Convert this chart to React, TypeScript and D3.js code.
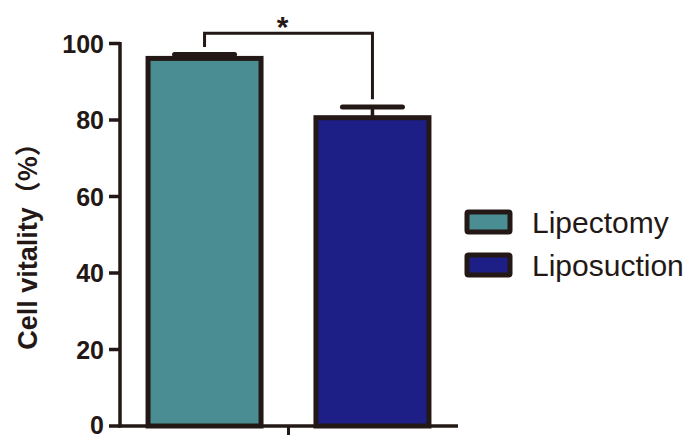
import React from "react";
import * as d3 from "d3";

// Group means and SEM (cell vitality, %)
const groups = ["Lipectomy", "Liposuction"];
const means = [96.1, 80.6];
const sems = [1.0, 2.8];
const fills = ["#4A8D93", "#1E1E87"];
const yTicks = [0, 20, 40, 60, 80, 100];
const yTitleMain = "Cell vitality";
const yTitleUnit = "（%）";
const sigLabel = "*";

const W = 694;
const H = 435;
const INK = "#231815";

export default function App() {
  const y = d3.scaleLinear().domain([0, 100]).range([426, 43.5]);
  const x = d3
    .scaleBand<string>()
    .domain(groups)
    .range([120, 457])
    .paddingInner(0.327)
    .paddingOuter(0.167);

  const bw = x.bandwidth();
  const cx = (g: string) => (x(g) as number) + bw / 2;
  const capHalf = 30;

  // significance bracket between the two groups
  const bracketVal = 102.7;
  const legGap = 2.0;
  const x1 = cx(groups[0]);
  const x2 = cx(groups[1]);
  const mid = (x1 + x2) / 2;

  return (
    <svg
      width={W}
      height={H}
      style={{ position: "absolute", left: 0, top: 0, background: "#fff" }}
      fontFamily="'Liberation Sans', Arial, sans-serif"
    >
      {/* bars */}
      {groups.map((g, i) => (
        <rect
          key={g}
          x={x(g)}
          y={y(means[i])}
          width={bw}
          height={y(0) - y(means[i])}
          fill={fills[i]}
          stroke={INK}
          strokeWidth={5}
        />
      ))}

      {/* error bars (upper only) */}
      {groups.map((g, i) => {
        const top = y(means[i] + sems[i]);
        return (
          <g key={g + "-err"} stroke={INK} strokeLinecap="round">
            <line x1={cx(g)} x2={cx(g)} y1={y(means[i])} y2={top} strokeWidth={3.5} />
            <line
              x1={cx(g) - capHalf}
              x2={cx(g) + capHalf}
              y1={top}
              y2={top}
              strokeWidth={5}
            />
          </g>
        );
      })}

      {/* y axis */}
      <line x1={120} x2={120} y1={y(0) + 1.5} y2={y(100) - 1.5} stroke={INK} strokeWidth={3.5} />
      {yTicks.map((t) => (
        <g key={t}>
          <line x1={109} x2={120} y1={y(t)} y2={y(t)} stroke={INK} strokeWidth={3.5} />
          <text
            x={104}
            y={y(t)}
            dy={t === 0 ? "0.3em" : "0.36em"}
            textAnchor="end"
            fontSize={25}
            fontWeight="bold"
            fill={INK}
          >
            {t}
          </text>
        </g>
      ))}

      {/* x axis */}
      <line x1={118.5} x2={458} y1={y(0)} y2={y(0)} stroke={INK} strokeWidth={3.5} />
      <line x1={mid} x2={mid} y1={y(0)} y2={y(0) + 12} stroke={INK} strokeWidth={3} />

      {/* y title */}
      <text
        transform={`translate(37, 240) rotate(-90)`}
        textAnchor="middle"
        fontSize={27}
        fontWeight="bold"
        fill={INK}
      >
        {yTitleMain}
        <tspan fontFamily="'Noto Sans CJK SC', sans-serif" fontWeight="bold" fontSize={26}>
          {yTitleUnit}
        </tspan>
      </text>

      {/* significance bracket */}
      <path
        d={`M${x1},${y(means[0] + sems[0] + legGap)} V${y(bracketVal)} H${x2} V${y(
          means[1] + sems[1] + legGap
        )}`}
        fill="none"
        stroke={INK}
        strokeWidth={3}
      />
      <text x={mid - 6} y={37} textAnchor="middle" fontSize={30} fontWeight="bold" fill={INK}>
        {sigLabel}
      </text>

      {/* legend */}
      {groups.map((g, i) => (
        <g key={g + "-leg"} transform={`translate(0, ${i * 43})`}>
          <rect x={467} y={212} width={43} height={20} fill={fills[i]} stroke={INK} strokeWidth={5} rx={1.5} />
          <text x={532} y={233} fontSize={30} fill={INK}>
            {g}
          </text>
        </g>
      ))}
    </svg>
  );
}
